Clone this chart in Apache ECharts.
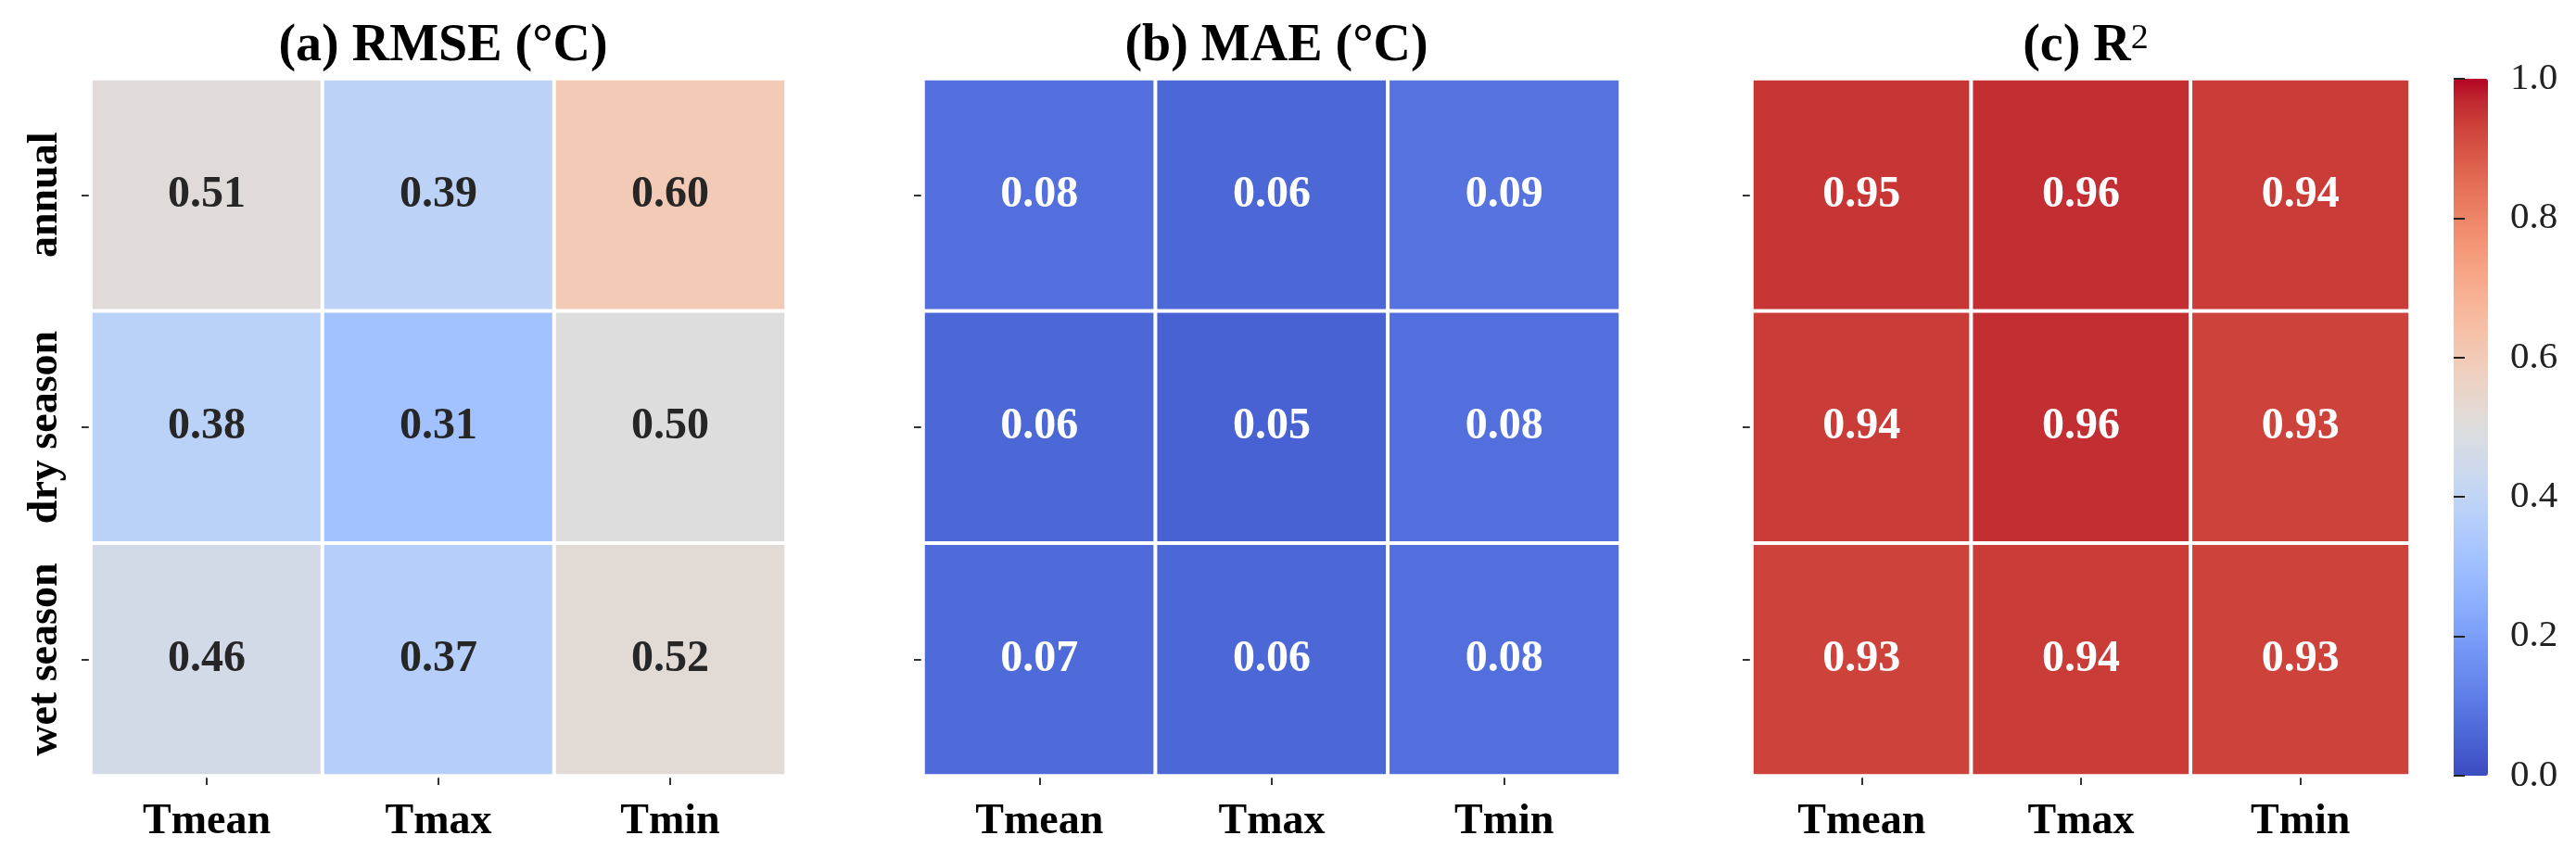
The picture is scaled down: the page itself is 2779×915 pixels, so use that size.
<!DOCTYPE html>
<html>
<head>
<meta charset="utf-8">
<script src="https://cdn.jsdelivr.net/npm/echarts@6/dist/echarts.min.js"></script>
<style>
  html, body { margin: 0; padding: 0; background: #fff; }
  #main { width: 2779px; height: 915px; }
</style>
</head>
<body>
<div id="main"></div>
<script>
  // columns / rows of the three heatmaps
  var cols = ['Tmean', 'Tmax', 'Tmin'];
  var rows = ['annual', 'dry season', 'wet season'];

  // values read row by row (annual, dry season, wet season)
  var rmse = [[0.51, 0.39, 0.60], [0.38, 0.31, 0.50], [0.46, 0.37, 0.52]];
  var mae = [[0.08, 0.06, 0.09], [0.06, 0.05, 0.08], [0.07, 0.06, 0.08]];
  var r2 = [[0.95, 0.96, 0.94], [0.94, 0.96, 0.93], [0.93, 0.94, 0.93]];

  // colorbar tick labels, bottom to top
  var cbarTicks = ['0.0', '0.2', '0.4', '0.6', '0.8', '1.0'];

  var titles = ['(a) RMSE (°C)', '(b) MAE (°C)', '(c) R{sup|2}'];

  // matplotlib coolwarm
  var coolwarm = ['#3b4cc0', '#445acc', '#4d68d7', '#5775e1', '#6282ea', '#6c8ef1', '#779af7', '#82a5fb',
    '#8db0fe', '#98b9ff', '#a3c2ff', '#aec9fd', '#b8d0f9', '#c2d5f4', '#ccd9ee', '#d5dbe6', '#dddddd',
    '#e5d8d1', '#ecd3c5', '#f1ccb8', '#f5c4ac', '#f7bba0', '#f7b194', '#f7a687', '#f49a7b', '#f18d6f',
    '#ec7f63', '#e57058', '#de604d', '#d55042', '#cb3e38', '#c0282f', '#b40426'];

  var font = "'Liberation Serif', 'Times New Roman', serif";
  // only the ticks are drawn, not the axis line (show must be explicit in v6)
  var tick = {show: true, alignWithLabel: true, interval: 0, length: 10, lineStyle: {color: '#333', width: 2}};

  function toCells(m) {
    var out = [];
    for (var r = 0; r < rows.length; r++) {
      for (var c = 0; c < cols.length; c++) {
        out.push([c, r, m[r][c]]);
      }
    }
    return out;
  }

  var grids = [
    {left: 98, top: 85, width: 750, height: 752},
    {left: 996, top: 85, width: 752, height: 752},
    {left: 1890, top: 85, width: 710, height: 752},
    {left: 2647, top: 85, width: 37, height: 752}   // colorbar axis
  ];

  var mats = [rmse, mae, r2];
  var labelColors = ['#262626', '#ffffff', '#ffffff'];

  var xAxes = [], yAxes = [], series = [], titleList = [];
  for (var i = 0; i < 3; i++) {
    xAxes.push({
      type: 'category', gridIndex: i, data: cols,
      axisLine: {show: false},
      axisTick: tick,
      axisLabel: {interval: 0, fontFamily: font, fontWeight: 'bold', fontSize: 46, color: '#000', margin: 27},
      splitLine: {show: false}
    });
    yAxes.push({
      type: 'category', gridIndex: i, data: rows, inverse: true,
      axisLine: {show: false},
      axisTick: tick,
      axisLabel: {show: i === 0, interval: 0, rotate: 90, fontFamily: font, fontWeight: 'bold', fontSize: 46,
        color: '#000', margin: 26},
      splitLine: {show: false}
    });
    series.push({
      type: 'heatmap', xAxisIndex: i, yAxisIndex: i,
      data: toCells(mats[i]),
      itemStyle: {borderColor: '#fff', borderWidth: 4},
      label: {
        show: true, fontFamily: font, fontWeight: 'bold', fontSize: 48, color: labelColors[i],
        formatter: function (p) { return p.value[2].toFixed(2); }
      },
      emphasis: {disabled: true}
    });
    titleList.push({
      text: titles[i],
      left: grids[i].left + grids[i].width / 2,
      top: 18,
      textAlign: 'center',
      textStyle: {
        fontFamily: font, fontWeight: 'bold', fontSize: 56, color: '#000',
        rich: {sup: {fontFamily: font, fontWeight: 'normal', fontSize: 38, verticalAlign: 'top', lineHeight: 30}}
      }
    });
  }

  // colorbar ticks: evenly spaced category axis, 0.0 at bottom to 1.0 at top
  xAxes.push({type: 'value', gridIndex: 3, min: 0, max: 1, show: false});
  yAxes.push({
    type: 'category', gridIndex: 3, data: cbarTicks, boundaryGap: false, position: 'right', z: 20,
    axisLine: {show: false},
    axisTick: {show: true, interval: 0, length: 12, lineStyle: {color: '#222', width: 2}},
    axisLabel: {interval: 0, fontFamily: font, fontSize: 41, color: '#222', margin: 24},
    splitLine: {show: false}
  });

  var chart = echarts.init(document.getElementById('main'), null, {renderer: 'canvas'});
  chart.setOption({
    backgroundColor: '#fff',
    animation: false,
    title: titleList,
    grid: grids,
    xAxis: xAxes,
    yAxis: yAxes,
    visualMap: {
      type: 'continuous', min: 0, max: 1, seriesIndex: [0, 1, 2], dimension: 2, z: 1,
      orient: 'vertical', left: 2647, top: 85, itemWidth: 37, itemHeight: 752,
      padding: 0, calculable: false, hoverLink: false,
      inRange: {color: coolwarm}
    },
    series: series
  });
</script>
</body>
</html>
